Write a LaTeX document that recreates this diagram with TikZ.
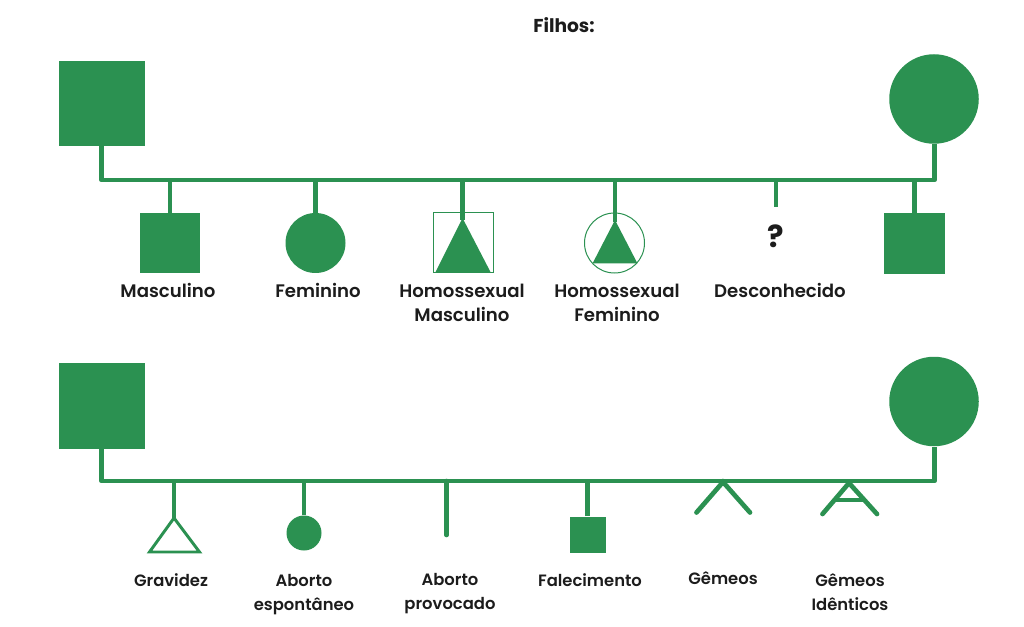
\documentclass[tikz,border=0pt]{standalone}
\usepackage{fontspec}
\setmainfont{Poppins}[BoldFont=Poppins SemiBold]
\newfontfamily\heavy{Poppins Bold}
\definecolor{gr}{HTML}{2B9151}
\definecolor{ink}{HTML}{1C1C1C}
\begin{document}
\begin{tikzpicture}[x=0.75pt,y=-0.75pt,
  sq/.style={rectangle,fill=gr,draw=none,inner sep=0,minimum size=#1*0.75pt},
  circ/.style={circle,fill=gr,draw=none,inner sep=0,minimum size=#1*0.75pt},
  thinsq/.style={rectangle,draw=gr,line width=0.75pt,fill=none,inner sep=0,minimum size=#1*0.75pt},
  thincirc/.style={circle,draw=gr,line width=0.75pt,fill=none,inner sep=0,minimum size=#1*0.75pt},
  ln/.style={draw=gr,line width=3.4pt,line join=round},
  stem/.style={draw=gr,line width=3.5pt},
  rstem/.style={draw=gr,line width=3.5pt,line cap=round},
  big/.style={font=\bfseries\fontsize{13.6pt}{18pt}\selectfont,text=ink,inner sep=0,align=center},
  small/.style={font=\bfseries\fontsize{12.3pt}{18pt}\selectfont,text=ink,inner sep=0,align=center}]
\useasboundingbox (0,0) rectangle (1024,627);
\fill[white] (0,0) rectangle (1024,627);
\node[big,font=\heavy\fontsize{14pt}{15pt}\selectfont] (title) at (564,25) {Filhos:};
% top row
\node[sq=85.5] (A1) at (102,103.7) {};
\node[circ=89.5] (B1) at (934,99) {};
\coordinate (L1) at (101.5,180);
\coordinate (R1) at (934.5,180);
\draw[ln] (101.5,146) -- (L1) -- (R1) -- (B1.south -| R1);
\node[sq=60] (m) at (170,243.5) {};
\node[circ=60] (f) at (315.5,243) {};
\node[thinsq=60] (hm) at (463,243) {};
\node[thincirc=60] (hf) at (614.5,243) {};
\coordinate (uk) at (776,207);
\node[sq=60.5] (s6) at (914.5,243.5) {};
\coordinate (hmt) at (462.5,220);
\coordinate (hft) at (615,222);
\fill[gr] (462.5,218) -- (491,273) -- (435,273) -- cycle;
\fill[gr] (615,220) -- (637.5,263.5) -- (592.5,263.5) -- cycle;
\draw[stem] (m.north) -- (m.north |- L1);
\draw[stem] (f.north) -- (f.north |- L1);
\draw[stem] (hmt) -- (hmt |- L1);
\draw[stem] (hft) -- (hft |- L1);
\draw[stem] (uk) -- (uk |- L1);
\draw[stem] (s6.north) -- (s6.north |- L1);
\node[font=\heavy\fontsize{23pt}{23pt}\selectfont,text=ink,inner sep=0] (q) at (775.5,236) {?};
\node[big] (t1) at (168,290) {Masculino};
\node[big] (t2) at (318,290) {Feminino};
\node[big,anchor=north] (t3) at (462,283.5) {Homossexual\\Masculino};
\node[big,anchor=north] (t4) at (617,283.5) {Homossexual\\Feminino};
\node[big] (t5) at (780,290) {Desconhecido};
% bottom row
\node[sq=85.5] (A2) at (102,406) {};
\node[circ=89.5] (B2) at (934,401.5) {};
\coordinate (L2) at (101.5,481);
\coordinate (R2) at (934.5,481);
\draw[ln] (101.5,449) -- (L2) -- (R2) -- (B2.south -| R2);
\coordinate (gv) at (174,518);
\draw[gr,line width=2.2pt,line join=miter] (174,518) -- (199.5,552) -- (149.5,552) -- cycle;
\node[circ=35] (ab) at (304,533) {};
\coordinate (ap) at (446.5,535);
\node[sq=36] (fa) at (587.5,534.5) {};
\coordinate (g1) at (723,482);
\coordinate (g1l) at (696.5,512.5);
\coordinate (g1r) at (750,512.5);
\coordinate (g2) at (849,483);
\coordinate (g2l) at (822.5,514);
\coordinate (g2r) at (877,514);
\coordinate (g2a) at (835,500);
\coordinate (g2b) at (863,500);
\draw[stem] (gv) -- (gv |- L2);
\draw[stem] (ab.north) -- (ab.north |- L2);
\draw[rstem] (ap) -- (ap |- L2);
\draw[stem] (fa.north) -- (fa.north |- L2);
\draw[rstem] (g1l) -- (g1) -- (g1r);
\draw[rstem] (g2l) -- (g2) -- (g2r);
\draw[stem] (g2a) -- (g2b);
\node[small] (b1) at (171,580) {Gravidez};
\node[small,anchor=north] (b2) at (304,574.5) {Aborto\\espontâneo};
\node[small,anchor=north] (b3) at (450,573.5) {Aborto\\provocado};
\node[small] (b4) at (590,580) {Falecimento};
\node[small] (b5) at (723,578) {Gêmeos};
\node[small,anchor=north] (b6) at (850,573.5) {Gêmeos\\Idênticos};
\end{tikzpicture}
\end{document}
